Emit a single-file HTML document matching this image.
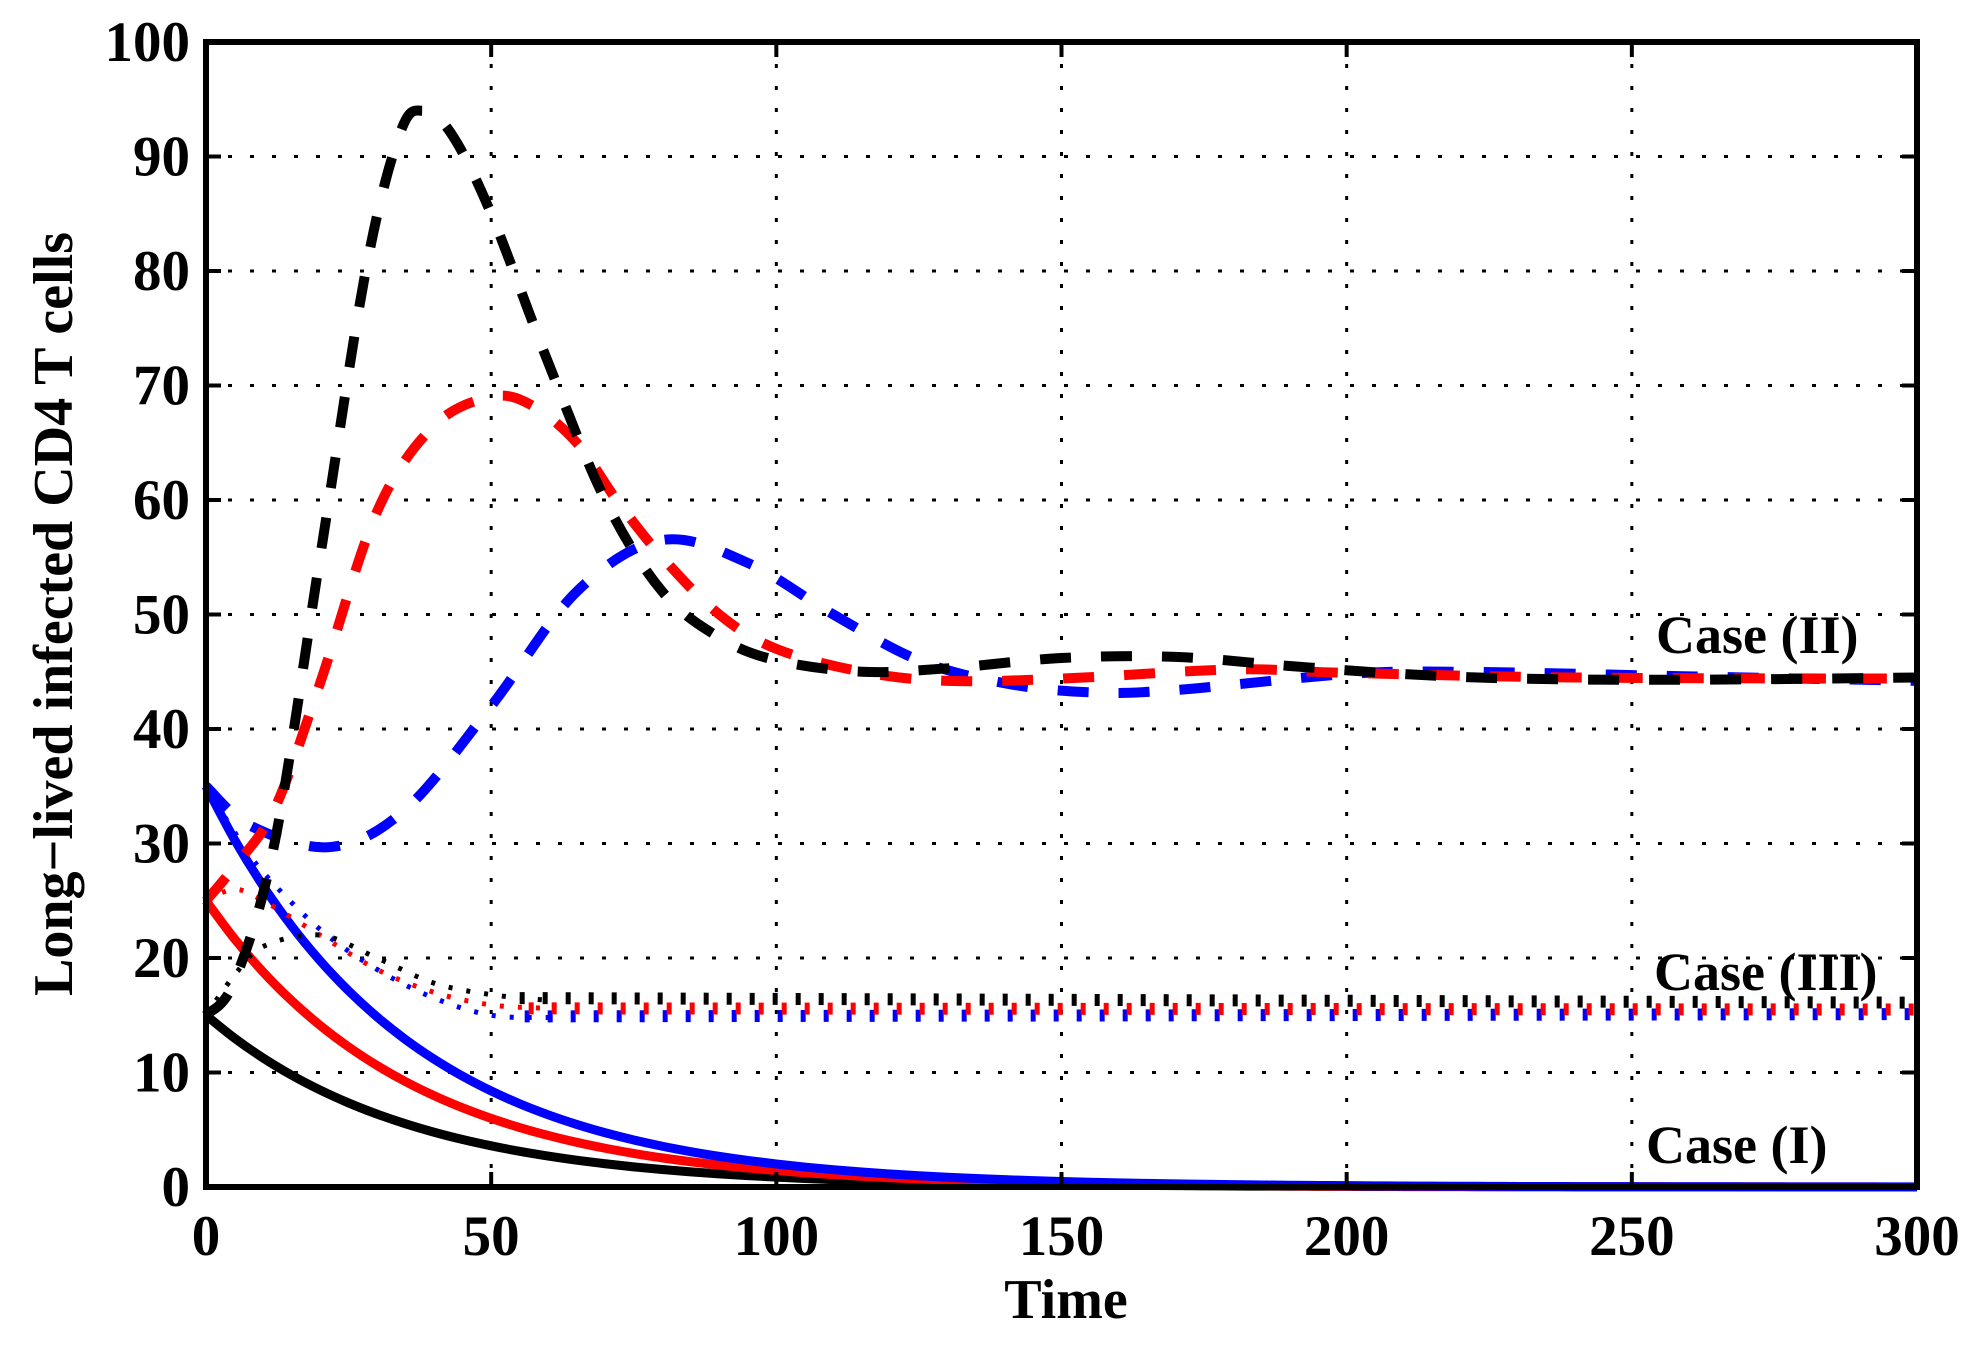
<!DOCTYPE html>
<html><head><meta charset="utf-8"><style>
html,body{margin:0;padding:0;background:#fff;}
svg text{font-family:"Liberation Serif",serif;font-weight:bold;fill:#000;}
</style></head><body>
<svg id="s" width="1986" height="1348" xmlns="http://www.w3.org/2000/svg">
<g id="grid" stroke="#000" stroke-width="3" stroke-dasharray="4,18" fill="none"></g>
<g id="curves" fill="none"></g>
<g id="axes"></g>
<g font-size="57" id="labels"></g>
<text x="1066" y="1318" font-size="56" text-anchor="middle">Time</text>
<text transform="translate(72,614) rotate(-90)" font-size="56" text-anchor="middle">Long−lived infected CD4 T cells</text>
<text x="1656" y="653" font-size="54">Case (II)</text>
<text x="1654" y="990" font-size="54">Case (III)</text>
<text x="1646" y="1163" font-size="54">Case (I)</text>
</svg>
<script>
var L=206,R=1917,T=42,B=1187;
function X(t){return L+(R-L)*t/300;}
function Y(v){return B-(B-T)*v/100;}
var NS="http://www.w3.org/2000/svg";
function el(p,tag,a){var e=document.createElementNS(NS,tag);for(var k in a)e.setAttribute(k,a[k]);document.getElementById(p).appendChild(e);return e;}
for(var t=50;t<300;t+=50)el("grid","line",{x1:X(t),y1:T,x2:X(t),y2:B});
for(var v=10;v<100;v+=10)el("grid","line",{x1:L,y1:Y(v),x2:R,y2:Y(v)});
function spline(pts){var d="M"+X(pts[0][0])+","+Y(pts[0][1]);
for(var i=0;i<pts.length-1;i++){var p0=pts[Math.max(0,i-1)],p1=pts[i],p2=pts[i+1],p3=pts[Math.min(pts.length-1,i+2)];
var a=[X(p0[0]),Y(p0[1])],b=[X(p1[0]),Y(p1[1])],c=[X(p2[0]),Y(p2[1])],e=[X(p3[0]),Y(p3[1])];
var c1=[b[0]+(c[0]-a[0])/6,b[1]+(c[1]-a[1])/6],c2=[c[0]-(e[0]-b[0])/6,c[1]-(e[1]-b[1])/6];
d+=" C"+c1[0]+","+c1[1]+" "+c2[0]+","+c2[1]+" "+c[0]+","+c[1];}
return d;}
function fn(f,a,b,n){var p=[];for(var i=0;i<=n;i++){var t=a+(b-a)*i/n;p.push([t,f(t)]);}return p;}
var col={k:"#000",r:"#f00",b:"#00f"};
[["k",15],["r",25],["b",35]].forEach(function(c){
el("curves","path",{d:spline(fn(function(t){return c[1]*Math.exp(-t/35);},0,300,60)),stroke:col[c[0]],"stroke-width":9});});
var dots={
k:[[0,15],[5,18.5],[10,21],[20,22],[30,20],[40,17.8],[50,16.8],[60,16.3]],
r:[[0,25],[5,26],[10,25],[20,22],[30,19],[40,17],[50,15.9],[60,15.6]],
b:[[0,35],[5,31],[10,27.5],[20,22.5],[30,19],[40,16.5],[50,15],[60,14.8]]};
["b","r","k"].forEach(function(c){el("curves","path",{d:spline(dots[c]),stroke:col[c],"stroke-width":5,"stroke-dasharray":"4,14"});});
var tail={k:[16.5,16.1],r:[15.6,15.5],b:[14.9,15.1]},off={k:0,r:9,b:5};
["b","r","k"].forEach(function(c){var x0=X(55)+off[c];
el("curves","line",{x1:x0,y1:Y(tail[c][0]),x2:R,y2:Y(tail[c][1]),stroke:col[c],"stroke-width":12,"stroke-dasharray":"5,18"});});
var dash={
b:[[0,35],[8,31.5],[22,29.7],[35,33],[50,42],[65,52],[80,56.5],[95,54.5],[110,50],[125,46],[140,44],[155,43.2],[170,43.4],[200,44.8],[220,45],[260,44.6],[300,44.2]],
r:[[0,25],[5,28],[12,33],[20,44],[30,59],[40,66.5],[50,69],[57,68.3],[65,65],[72,60],[80,55],[90,50],[100,47],[115,45],[130,44.2],[150,44.4],[180,45.2],[200,44.9],[240,44.5],[300,44.4]],
k:[[0,15],[5,18],[12,30],[20,55],[28,80],[34,92],[38,94],[43,92],[50,85],[60,72],[70,60],[80,52],[90,48],[100,46],[115,45],[130,45.3],[150,46.2],[170,46.3],[190,45.5],[210,44.8],[230,44.4],[260,44.3],[300,44.5]]};
["b","r","k"].forEach(function(c){el("curves","path",{d:spline(dash[c]),stroke:col[c],"stroke-width":10,"stroke-dasharray":"31,30"});});
el("axes","rect",{x:L,y:T,width:R-L,height:B-T,fill:"none",stroke:"#000","stroke-width":6});
for(var t=50;t<300;t+=50){el("axes","line",{x1:X(t),y1:B,x2:X(t),y2:B-15,stroke:"#000","stroke-width":4});el("axes","line",{x1:X(t),y1:T,x2:X(t),y2:T+15,stroke:"#000","stroke-width":4});}
for(var v=10;v<100;v+=10){el("axes","line",{x1:L,y1:Y(v),x2:L+15,y2:Y(v),stroke:"#000","stroke-width":4});el("axes","line",{x1:R,y1:Y(v),x2:R-15,y2:Y(v),stroke:"#000","stroke-width":4});}
for(var v=0;v<=100;v+=10){var e=el("labels","text",{x:190,y:Y(v)+19,"text-anchor":"end"});e.textContent=v;}
for(var t=0;t<=300;t+=50){var e=el("labels","text",{x:X(t),y:1255,"text-anchor":"middle"});e.textContent=t;}
</script>
</body></html>
